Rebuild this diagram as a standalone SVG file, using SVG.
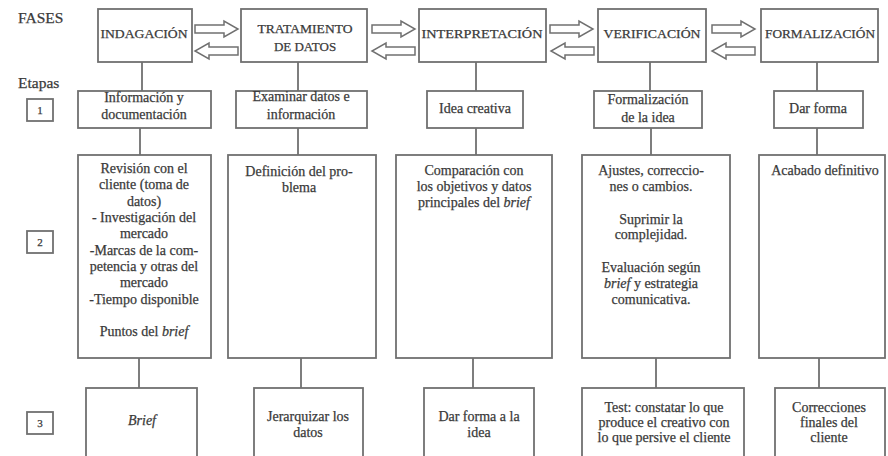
<svg xmlns="http://www.w3.org/2000/svg" xmlns:xlink="http://www.w3.org/1999/xlink" width="888" height="456" viewBox="0 0 888 456">
  <style>
    .box { fill: #ffffff; stroke: #707070; stroke-width: 1.8; }
    .wire { stroke: #707070; stroke-width: 1.8; fill: none; }
    .arrow { fill: #ffffff; stroke: #707070; stroke-width: 1.5; stroke-linejoin: miter; }
    text { font-family: "Liberation Serif", "Times New Roman", serif; fill: #3a3a3a; stroke: #3a3a3a; stroke-width: 0.25; font-size: 14px; text-anchor: middle; }
    .head { font-size: 13px; }
    .side { font-size: 15.5px; text-anchor: start; }
    .num { font-size: 11px; }
    .it { font-style: italic; }
  </style>
  <defs>
    <!-- hollow block arrow pointing right, origin at the tail centre -->
    <path id="arrR" class="arrow" d="M0,-4 H29 V-8 L43,0 L29,8 V4 H0 Z"/>
  </defs>

  <rect width="888" height="456" fill="#ffffff"/>

  <!-- row labels -->
  <g id="labels">
    <text class="side" x="18" y="23">FASES</text>
    <text class="side" x="18" y="88">Etapas</text>
  </g>
  <g id="stage-1-label"><rect class="box" x="27" y="99" width="26" height="22"/><text class="num" x="40" y="114">1</text></g>
  <g id="stage-2-label"><rect class="box" x="27" y="231" width="26" height="22"/><text class="num" x="40" y="246">2</text></g>
  <g id="stage-3-label"><rect class="box" x="27" y="412" width="26" height="22"/><text class="num" x="40" y="427">3</text></g>

  <!-- connectors -->
  <g id="connectors">
    <!-- phase to stage 1 -->
    <line class="wire" x1="142" y1="62" x2="142" y2="91"/>
    <line class="wire" x1="298" y1="62" x2="298" y2="91"/>
    <line class="wire" x1="476" y1="62" x2="476" y2="91"/>
    <line class="wire" x1="650" y1="62" x2="650" y2="91"/>
    <line class="wire" x1="817" y1="62" x2="817" y2="91"/>
    <!-- stage 1 to stage 2 -->
    <line class="wire" x1="140" y1="128" x2="140" y2="155"/>
    <line class="wire" x1="298" y1="128" x2="298" y2="155"/>
    <line class="wire" x1="476" y1="128" x2="476" y2="155"/>
    <line class="wire" x1="651" y1="128" x2="651" y2="155"/>
    <line class="wire" x1="817" y1="128" x2="817" y2="155"/>
    <!-- stage 2 to stage 3 -->
    <line class="wire" x1="139" y1="358" x2="139" y2="388"/>
    <line class="wire" x1="301" y1="358" x2="301" y2="388"/>
    <line class="wire" x1="473" y1="358" x2="473" y2="388"/>
    <line class="wire" x1="656" y1="358" x2="656" y2="388"/>
    <line class="wire" x1="819" y1="358" x2="819" y2="388"/>
    <!-- two-way block arrows between phases -->
    <use xlink:href="#arrR" transform="translate(195,29)"/>
    <use xlink:href="#arrR" transform="translate(238,51) scale(-1,1)"/>
    <use xlink:href="#arrR" transform="translate(372,29)"/>
    <use xlink:href="#arrR" transform="translate(415,51) scale(-1,1)"/>
    <use xlink:href="#arrR" transform="translate(550,29)"/>
    <use xlink:href="#arrR" transform="translate(594,51) scale(-1,1)"/>
    <use xlink:href="#arrR" transform="translate(712,29)"/>
    <use xlink:href="#arrR" transform="translate(755,51) scale(-1,1)"/>
  </g>

  <!-- phases -->
  <g id="fase-indagacion"><rect class="box" x="98" y="9" width="94" height="53"/><text class="head" x="144" y="38" textLength="87" lengthAdjust="spacingAndGlyphs">INDAGACIÓN</text></g>
  <g id="fase-tratamiento"><rect class="box" x="241" y="9" width="126" height="53"/><text class="head" x="305" y="33" textLength="95" lengthAdjust="spacingAndGlyphs">TRATAMIENTO</text><text class="head" x="305" y="51">DE DATOS</text></g>
  <g id="fase-interpretacion"><rect class="box" x="419" y="9" width="127" height="53"/><text class="head" x="482" y="38" textLength="121" lengthAdjust="spacingAndGlyphs">INTERPRETACIÓN</text></g>
  <g id="fase-verificacion"><rect class="box" x="598" y="9" width="108" height="53"/><text class="head" x="652" y="38" textLength="97" lengthAdjust="spacingAndGlyphs">VERIFICACIÓN</text></g>
  <g id="fase-formalizacion"><rect class="box" x="761" y="9" width="117" height="53"/><text class="head" x="820" y="38" textLength="110" lengthAdjust="spacingAndGlyphs">FORMALIZACIÓN</text></g>

  <!-- stage 1 -->
  <g id="e1-indagacion"><rect class="box" x="78" y="91" width="133" height="37"/><text x="144" y="102">Información y</text><text x="144" y="119">documentación</text></g>
  <g id="e1-tratamiento"><rect class="box" x="236" y="91" width="131" height="37"/><text x="301" y="101">Examinar datos e</text><text x="301" y="119">información</text></g>
  <g id="e1-interpretacion"><rect class="box" x="427" y="91" width="96" height="37"/><text x="475" y="113">Idea creativa</text></g>
  <g id="e1-verificacion"><rect class="box" x="594" y="91" width="108" height="37"/><text x="648" y="104">Formalización</text><text x="648" y="122">de la idea</text></g>
  <g id="e1-formalizacion"><rect class="box" x="774" y="91" width="89" height="37"/><text x="818" y="113">Dar forma</text></g>

  <!-- stage 2 -->
  <g id="e2-indagacion"><rect class="box" x="78" y="155" width="133" height="203"/>
    <text x="144" y="173">Revisión con el</text>
    <text x="144" y="189">cliente (toma de</text>
    <text x="144" y="206">datos)</text>
    <text x="144" y="222">- Investigación del</text>
    <text x="144" y="238">mercado</text>
    <text x="144" y="255">-Marcas de la com-</text>
    <text x="144" y="271">petencia y otras del</text>
    <text x="144" y="287">mercado</text>
    <text x="144" y="304">-Tiempo disponible</text>
    <text x="144" y="336">Puntos del <tspan class="it">brief</tspan></text>
  </g>
  <g id="e2-tratamiento"><rect class="box" x="228" y="155" width="148" height="203"/>
    <text x="299" y="176">Definición del pro-</text>
    <text x="299" y="192">blema</text>
  </g>
  <g id="e2-interpretacion"><rect class="box" x="396" y="155" width="156" height="203"/>
    <text x="474" y="175">Comparación con</text>
    <text x="474" y="191">los objetivos y datos</text>
    <text x="474" y="207">principales del <tspan class="it">brief</tspan></text>
  </g>
  <g id="e2-verificacion"><rect class="box" x="582" y="155" width="148" height="203"/>
    <text x="651" y="175">Ajustes, correccio-</text>
    <text x="651" y="191">nes o cambios.</text>
    <text x="651" y="224">Suprimir la</text>
    <text x="651" y="239">complejidad.</text>
    <text x="651" y="272">Evaluación según</text>
    <text x="651" y="288"><tspan class="it">brief</tspan> y estrategia</text>
    <text x="651" y="304">comunicativa.</text>
  </g>
  <g id="e2-formalizacion"><rect class="box" x="759" y="155" width="126" height="203"/>
    <text x="825" y="175">Acabado definitivo</text>
  </g>

  <!-- stage 3 (boxes run past the lower edge) -->
  <g id="e3-indagacion"><rect class="box" x="86" y="388" width="111" height="80"/><text class="it" x="142" y="425">Brief</text></g>
  <g id="e3-tratamiento"><rect class="box" x="254" y="388" width="109" height="80"/><text x="308" y="421">Jerarquizar los</text><text x="308" y="437">datos</text></g>
  <g id="e3-interpretacion"><rect class="box" x="424" y="388" width="110" height="80"/><text x="479" y="421">Dar forma a la</text><text x="479" y="437">idea</text></g>
  <g id="e3-verificacion"><rect class="box" x="582" y="388" width="162" height="80"/><text x="664" y="411.5">Test: constatar lo que</text><text x="664" y="426.5">produce el creativo con</text><text x="664" y="441.5">lo que persive el cliente</text></g>
  <g id="e3-formalizacion"><rect class="box" x="775" y="388" width="110" height="80"/><text x="829" y="411.5">Correcciones</text><text x="829" y="426.5">finales del</text><text x="829" y="441.5">cliente</text></g>
</svg>
